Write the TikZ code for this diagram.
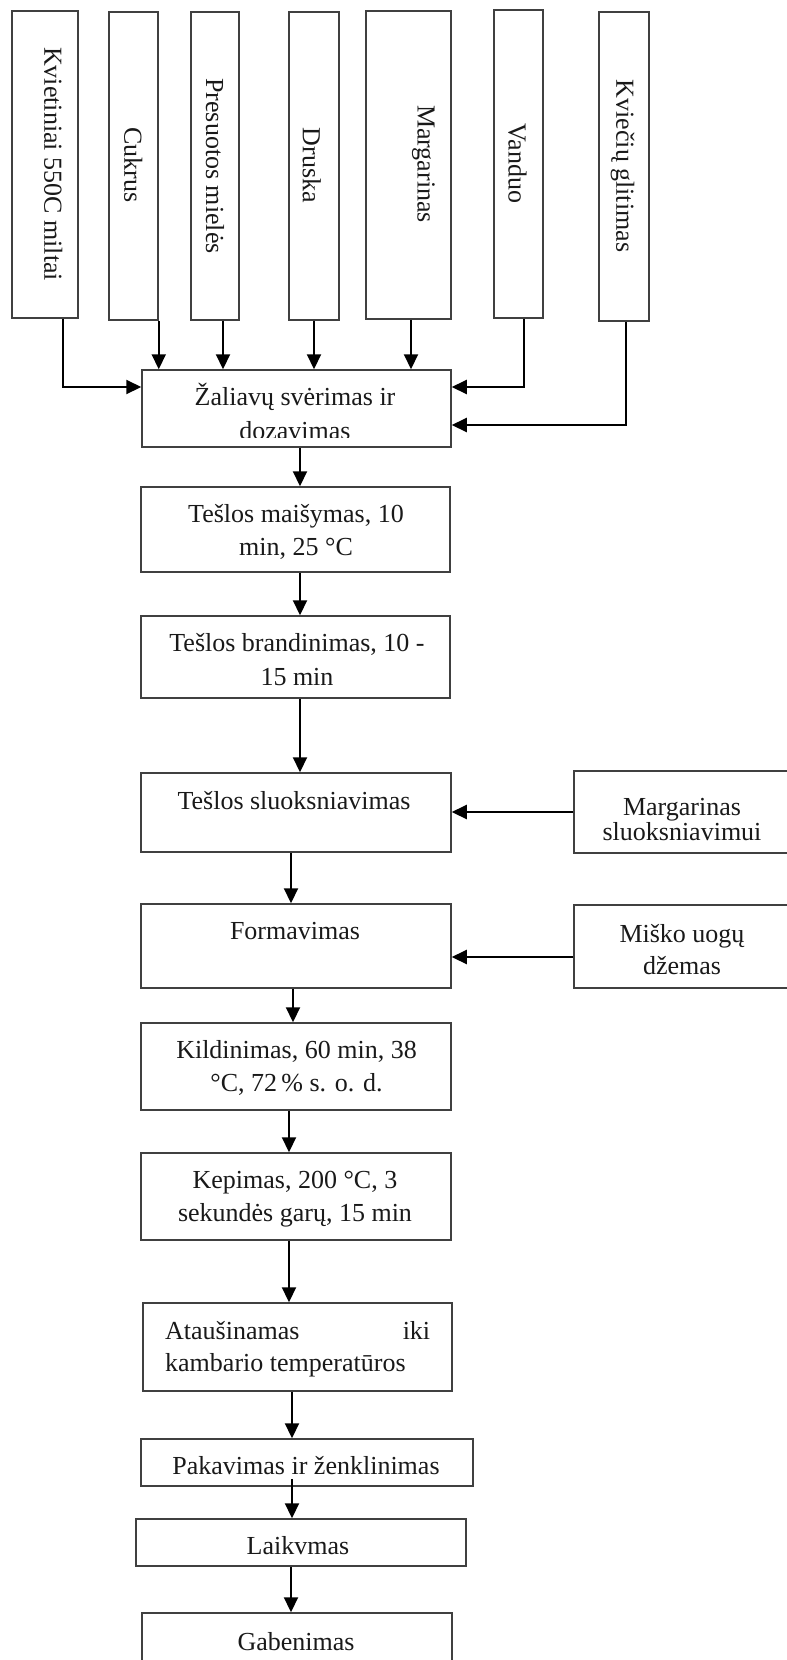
\documentclass[tikz,border=0pt]{standalone}
\usepackage{fontspec}
\setmainfont{Liberation Serif}
\usetikzlibrary{arrows.meta}
% two centred lines whose baseline is the baseline of the first line
\newcommand\twolines[2]{\vtop{\halign{\hfil##\hfil\cr#1\cr#2\cr}}}

\begin{document}
\begin{tikzpicture}[x=1pt,y=-1pt,
  box/.style={draw=black!75, line width=1.5pt, inner sep=0pt},
  arr/.style={line width=2.1pt, -{Triangle[length=15pt,width=14pt]}},
  txt/.style={anchor=base, inner sep=0pt, text=black!90, font=\fontsize{26}{33}\selectfont},
  vtxt/.style={rotate=-90, inner sep=0pt, text=black!90, font=\fontsize{26}{33}\selectfont}]

\useasboundingbox (0,0) rectangle (787,1660);
\clip (0,0) rectangle (787,1660);

% ---- raw materials (upright boxes, text read top to bottom)
\node[box, minimum width=66pt, minimum height=307pt] (kv)   at (45,164.5)  {};
\node[box, minimum width=49pt, minimum height=308pt] (cuk)  at (133.5,166) {};
\node[box, minimum width=48pt, minimum height=308pt] (pres) at (215,166)   {};
\node[box, minimum width=50pt, minimum height=308pt] (dru)  at (314,166)   {};
\node[box, minimum width=85pt, minimum height=308pt] (mar)  at (408.5,165) {};
\node[box, minimum width=49pt, minimum height=308pt] (van)  at (518.5,164) {};
\node[box, minimum width=50pt, minimum height=309pt] (glit) at (624,166.5) {};

\node[vtxt] (kvT)   at (53.3,164)  {Kvietiniai 550C miltai};
\node[vtxt] (cukT)  at (133.3,165) {Cukrus};
\node[vtxt] (presT) at (215,166)   {Presuotos mielės};
\node[vtxt] (druT)  at (311.7,165.5) {Druska};
\node[vtxt] (marT)  at (423.5,164) {Margarinas};
\node[vtxt] (vanT)  at (517.5,163.5) {Vanduo};
\node[vtxt] (glitT) at (622.5,166) {Kviečių glitimas};

% ---- process steps
\node[box, minimum width=309pt, minimum height=77pt] (zal)  at (296.5,408.5) {};
\node[box, minimum width=309pt, minimum height=85pt] (tm)   at (295.5,529.5) {};
\node[box, minimum width=309pt, minimum height=82pt] (tb)   at (295.5,657)   {};
\node[box, minimum width=310pt, minimum height=79pt] (ts)   at (296,812.5)   {};
\node[box, minimum width=310pt, minimum height=84pt] (form) at (296,946)     {};
\node[box, minimum width=310pt, minimum height=87pt] (kild) at (296,1066.5)  {};
\node[box, minimum width=310pt, minimum height=87pt] (kep)  at (296,1196.5)  {};
\node[box, minimum width=309pt, minimum height=88pt] (ata)  at (297.5,1347)  {};
\node[box, minimum width=332pt, minimum height=47pt] (pak)  at (307,1462.5)  {};
\node[box, minimum width=330pt, minimum height=47pt] (laik) at (301,1542.5)  {};
\node[box, minimum width=310pt, minimum height=100pt] (gab) at (297,1663)    {};

% ---- additions on the right
\node[box, minimum width=266pt, minimum height=82pt] (msl) at (707,812)   {};
\node[box, minimum width=266pt, minimum height=83pt] (mis) at (707,946.5) {};

% ---- step texts
\begin{scope}
  \clip (142,370) rectangle (451,437);
  \node[txt, font=\fontsize{26}{34}\selectfont] (zalT) at (295,405)
    {\twolines{Žaliavų svėrimas ir}{dozavimas}};
\end{scope}
\node[txt] (tmT) at (296,522) {\twolines{Tešlos maišymas, 10}{min, 25 °C}};
\node[txt, font=\fontsize{26}{34}\selectfont] (tbT) at (297,651)
  {\twolines{Tešlos brandinimas, 10 -}{15 min}};
\node[txt] (tsT) at (294,809) {Tešlos sluoksniavimas};
\node[txt] (formT) at (295,939) {Formavimas};
\node[txt, font=\fontsize{26}{33.5}\selectfont] (kildT) at (296.5,1058)
  {\twolines{Kildinimas, 60 min, 38}{°C, 72\,\% s. o. d.}};
\node[txt] (kepT) at (295,1188) {\twolines{Kepimas, 200 °C, 3}{sekundės garų, 15 min}};
\node[txt, anchor=base west, font=\fontsize{26}{32}\selectfont] (ataT) at (165,1339)
  {\vtop{\hbox to 265pt{Ataušinamas\hfill iki}\hbox{kambario temperatūros}}};
\node[txt] (pakT)  at (306,1474) {Pakavimas ir ženklinimas};
\node[txt] (laikT) at (298,1554) {Laikvmas};
\node[txt] (gabT)  at (296,1650) {Gabenimas};
\node[txt, font=\fontsize{26}{25}\selectfont] (mslT) at (682,815)
  {\twolines{Margarinas}{sluoksniavimui}};
\node[txt, font=\fontsize{26}{32}\selectfont] (misT) at (682,942)
  {\twolines{Miško uogų}{džemas}};

% ---- raw materials into weighing
\draw[arr] ([xshift=18pt]kv.south) |- ([yshift=21.5pt]zal.west);
\draw[arr] (cuk.south east) -- (cuk.south east |- zal.north);
\coordinate (presOut) at ([xshift=8pt]pres.south);
\draw[arr] (presOut) -- (presOut |- zal.north);
\draw[arr] (dru.south) -- (dru.south |- zal.north);
\coordinate (marOut) at ([xshift=2.5pt]mar.south);
\draw[arr] (marOut) -- (marOut |- zal.north);
\draw[arr] ([xshift=5.5pt]van.south) |- ([yshift=21.5pt]zal.east);
\draw[arr] ([xshift=2pt]glit.south) |- ([yshift=-16.5pt]zal.east);

% ---- main flow
\coordinate (o1) at ([xshift=3.5pt]zal.south);
\draw[arr] (o1) -- (o1 |- tm.north);
\coordinate (o2) at ([xshift=4.5pt]tm.south);
\draw[arr] (o2) -- (o2 |- tb.north);
\coordinate (o3) at ([xshift=4.5pt]tb.south);
\draw[arr] (o3) -- (o3 |- ts.north);
\coordinate (o4) at ([xshift=-5pt]ts.south);
\draw[arr] (o4) -- (o4 |- form.north);
\coordinate (o5) at ([xshift=-3pt]form.south);
\draw[arr] (o5) -- (o5 |- kild.north);
\coordinate (o6) at ([xshift=-7pt]kild.south);
\draw[arr] (o6) -- (o6 |- kep.north);
\coordinate (o7) at ([xshift=-7pt]kep.south);
\draw[arr] (o7) -- (o7 |- ata.north);
\coordinate (o8) at ([xshift=-5.5pt]ata.south);
\draw[arr] (o8) -- (o8 |- pak.north);
\coordinate (o9) at ([xshift=-15pt,yshift=8pt]pak.south);
\draw[arr] (o9) -- (o9 |- laik.north);
\coordinate (o10) at ([xshift=-10pt]laik.south);
\draw[arr] (o10) -- (o10 |- gab.north);

% ---- side additions
\draw[arr] (msl.west) -- (msl.west -| ts.east);
\coordinate (misIn) at ([yshift=-10.5pt]mis.west);
\draw[arr] (misIn) -- (misIn -| form.east);
\end{tikzpicture}
\end{document}
